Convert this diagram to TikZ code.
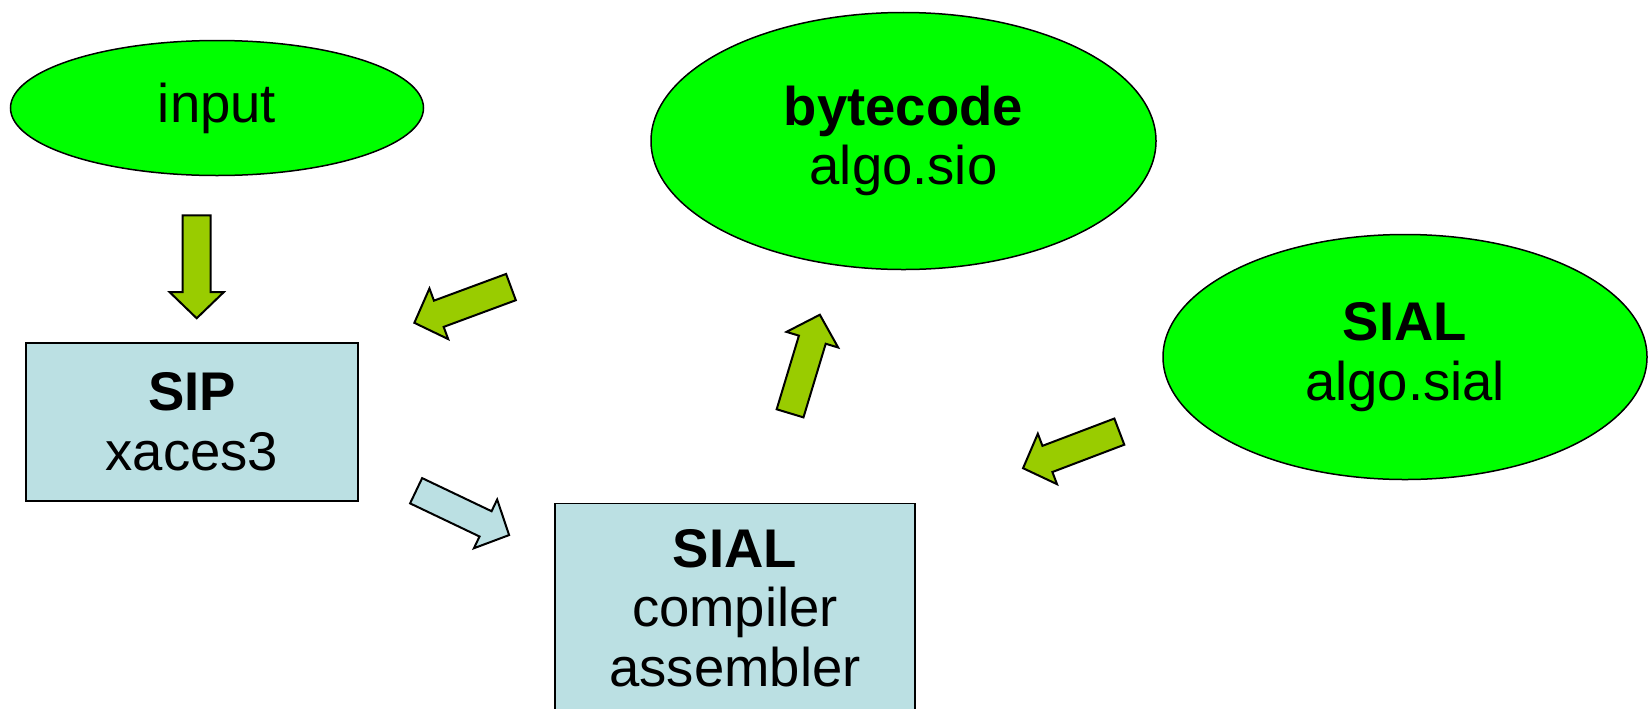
\documentclass[tikz,border=0pt]{standalone}
\usepackage{fontspec}
\setmainfont{Liberation Sans}
\usetikzlibrary{shapes.geometric,shapes.arrows}

\definecolor{hijau}{HTML}{00FF00}
\definecolor{biru}{HTML}{BBE0E3}
\definecolor{zaitun}{HTML}{99CC00}

\begin{document}
\begin{tikzpicture}[x=0.2mm, y=-0.2mm,
  font=\fontsize{31}{34}\selectfont,
  oval/.style={draw, ellipse, fill=hijau, line width=0.3mm, align=center, inner sep=0pt},
  kotak/.style={draw, rectangle, fill=biru, line width=0.3mm, align=center, inner sep=0pt},
  panahblok/.style={draw, single arrow, fill=#1, line width=0.4mm, inner sep=2.6mm,
    minimum height=20.6mm, single arrow head extend=2.6mm,
    single arrow tip angle=92, single arrow head indent=0pt}]

  \useasboundingbox (0,0) rectangle (1652,708);

  % Berkas dan program (elips hijau)
  \node[oval, minimum width=82.6mm, minimum height=27mm] (input) at (217,108) {input};
  \node[oval, minimum width=101mm, minimum height=51.4mm] (bytecode) at (903.5,141) {\textbf{bytecode}\\algo.sio};
  \node[oval, minimum width=96.8mm, minimum height=49mm] (sialsrc) at (1405,357) {\textbf{SIAL}\\algo.sial};

  % Komponen (kotak biru muda)
  \node[kotak, minimum width=66.4mm, minimum height=31.6mm] (sip) at (192,422) {\textbf{SIP}\\xaces3};
  \node[kotak, minimum width=72mm, minimum height=41.8mm] (compiler) at (735,608) {\textbf{SIAL}\\compiler\\assembler};

  % Panah blok di antara simpul
  \node[panahblok=zaitun, rotate=-90] (a1) at (196.7,260) {};
  \node[panahblok=zaitun, rotate=200.3] (a2) at (469,302.6) {};
  \node[panahblok=biru, rotate=-25.5] (a3) at (456.5,510) {};
  \node[panahblok=zaitun, rotate=73.2] (a4) at (803,370.5) {};
  \node[panahblok=zaitun, rotate=200.8] (a5) at (1077.5,447.5) {};

\end{tikzpicture}
\end{document}
